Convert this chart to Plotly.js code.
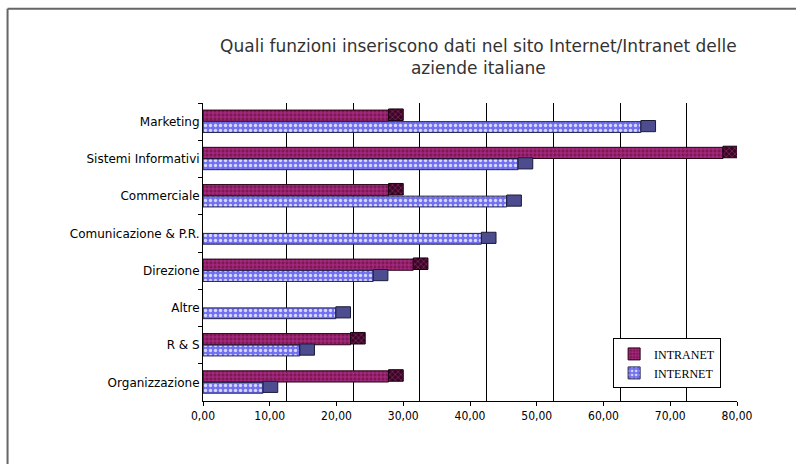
<!DOCTYPE html>
<html>
<head>
<meta charset="utf-8">
<script src="https://cdn.plot.ly/plotly-3.0.1.min.js"></script>
<style>html,body{margin:0;padding:0;background:#fff;}#chart{width:796px;height:464px;}</style>
</head>
<body>
<div id="chart"></div>
<script>
// ---- data ----
const categories = ["Marketing", "Sistemi Informativi", "Commerciale", "Comunicazione & P.R.", "Direzione", "Altre", "R & S", "Organizzazione"];
const intranet = [27.8, 77.9, 27.8, null, 31.5, null, 22.1, 27.8];
const internet = [65.6, 47.2, 45.5, 41.7, 25.5, 19.9, 14.5, 9.0];
const xTickVals = [0, 10, 20, 30, 40, 50, 60, 70, 80];
const titleText = "Quali funzioni inseriscono dati nel sito Internet/Intranet delle<br>aziende italiane";

// ---- style ----
const capDepth = 2.2;          // 3D side depth (in axis units)
const gridShift = 2.5;         // back-wall offset of the gridlines
const caps = arr => arr.map(v => v == null ? null : capDepth);

const traces = [
  { type: 'bar', orientation: 'h', name: 'INTRANET', y: categories, x: intranet,
    offset: -0.31, width: 0.30,
    marker: { color: '#821a55', line: { color: '#2a0018', width: 1 },
              pattern: { shape: '+', fgcolor: '#b8309a', bgcolor: '#7e1850', size: 4, solidity: 0.35 } } },
  { type: 'bar', orientation: 'h', name: 'INTERNET', y: categories, x: internet,
    offset: 0.0, width: 0.29,
    marker: { color: '#8080ff', line: { color: '#20204a', width: 1 },
              pattern: { shape: '.', fgcolor: '#d8d8ff', bgcolor: '#7070f0', size: 5, solidity: 0.35 } } },
  { type: 'bar', orientation: 'h', name: 'INTRANET', showlegend: false, hoverinfo: 'skip',
    y: categories, x: caps(intranet), base: intranet,
    offset: -0.34, width: 0.31,
    marker: { color: '#4a0a30', line: { color: '#1a0010', width: 1 },
              pattern: { shape: 'x', fgcolor: '#8a2a60', bgcolor: '#3a0626', size: 4, solidity: 0.3 } } },
  { type: 'bar', orientation: 'h', name: 'INTERNET', showlegend: false, hoverinfo: 'skip',
    y: categories, x: caps(internet), base: internet,
    offset: -0.03, width: 0.30,
    marker: { color: '#4c4c8e', line: { color: '#1a1a3a', width: 1 } } },
  // invisible trace on the shifted axis to carry back-wall gridlines
  { type: 'scatter', mode: 'markers', x: [null], y: [null], xaxis: 'x2', showlegend: false, hoverinfo: 'skip' }
];

const layout = {
  width: 796, height: 464,
  margin: { l: 203, r: 59, t: 103, b: 63 },
  paper_bgcolor: '#ffffff', plot_bgcolor: 'rgba(0,0,0,0)',
  separators: ',.',
  barmode: 'overlay',
  showlegend: true,
  title: { text: titleText, x: 0.601, xanchor: 'center', y: 0.888, yanchor: 'top',
           font: { family: '"DejaVu Sans", "Noto Sans", sans-serif', size: 17, color: '#333' } },
  font: { family: '"DejaVu Sans", sans-serif', color: '#000' },
  xaxis: {
    range: [0, 80], tickvals: xTickVals, tickformat: '.2f',
    showgrid: false, zeroline: false, showline: true, linecolor: '#000', linewidth: 1,
    ticks: 'outside', ticklen: 4, tickcolor: '#000',
    tickfont: { family: '"Liberation Sans Narrow", "DejaVu Sans Condensed", sans-serif', size: 12, color: '#000' }
  },
  xaxis2: {
    overlaying: 'x', side: 'bottom', range: [-gridShift, 80 - gridShift],
    tickvals: [10, 20, 30, 40, 50, 60, 70], showticklabels: false, ticks: '',
    showgrid: true, gridcolor: '#000', gridwidth: 1, zeroline: false, showline: false
  },
  yaxis: {
    type: 'category', categoryorder: 'array', categoryarray: categories,
    range: [7.5, -0.5], showgrid: false, zeroline: false,
    showline: true, linecolor: '#000', linewidth: 1,
    ticks: 'outside', ticklen: 4, tickcolor: '#000', tickson: 'boundaries',
    tickfont: { family: '"DejaVu Sans", sans-serif', size: 12, color: '#000' }
  },
  legend: {
    x: 0.768, y: 0.21, xanchor: 'left', yanchor: 'top',
    bgcolor: '#ffffff', bordercolor: '#000', borderwidth: 1,
    font: { family: '"Liberation Serif", serif', size: 12, color: '#000' },
    itemwidth: 30, tracegroupgap: 2
  },
  shapes: [
    { type: 'line', xref: 'paper', yref: 'paper', x0: -0.366, x1: 1.12, y0: 1.316, y1: 1.316,
      line: { color: '#666', width: 2 } },
    { type: 'line', xref: 'paper', yref: 'paper', x0: -0.366, x1: -0.366, y0: 1.316, y1: -0.22,
      line: { color: '#666', width: 2 } }
  ]
};

Plotly.newPlot('chart', traces, layout, { displayModeBar: false, staticPlot: true });
</script>
</body>
</html>
